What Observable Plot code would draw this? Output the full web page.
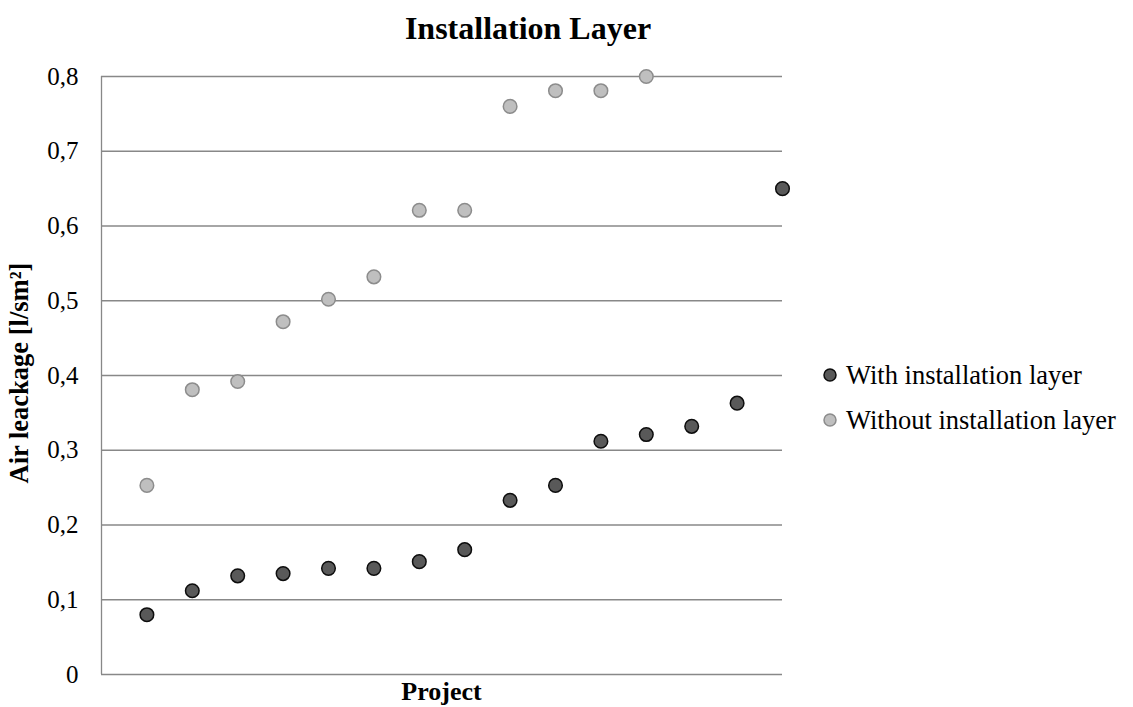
<!DOCTYPE html>
<html>
<head>
<meta charset="utf-8">
<script src="https://cdn.jsdelivr.net/npm/d3@7"></script>
<script src="https://cdn.jsdelivr.net/npm/@observablehq/plot@0.6"></script>
<style>
  html, body { margin: 0; padding: 0; background: #ffffff; }
  #wrap { position: relative; width: 1133px; height: 707px; font-family: "Liberation Serif", "Times New Roman", serif; color: #000; overflow: hidden; }
  #chart { position: absolute; left: 0; top: 0; }
  #title { position: absolute; left: 0; width: 1056px; top: 10px; text-align: center; font-weight: bold; font-size: 32px; line-height: 36px; }
  #xlabel { position: absolute; left: 101px; width: 681px; top: 676px; text-align: center; font-weight: bold; font-size: 26px; line-height: 32px; }
  #ylabel { position: absolute; left: 19px; top: 373px; transform: translate(-50%, -50%) rotate(-90deg); white-space: nowrap; font-weight: bold; font-size: 26.5px; line-height: 32px; }
  #legend { position: absolute; left: 822px; top: 359px; font-size: 26.5px; }
  .item { display: flex; align-items: center; height: 32px; margin-bottom: 13px; white-space: nowrap; }
  .item svg { margin-right: 8px; }
</style>
</head>
<body>
<div id="wrap">
  <div id="chart"></div>
  <div id="title"></div>
  <div id="ylabel"></div>
  <div id="xlabel"></div>
  <div id="legend"></div>
</div>
<script>
// ---- data ----
const chartTitle = "Installation Layer";
const xTitle = "Project";
const yTitle = "Air leackage [l/sm²]";
const seriesNames = ["With installation layer", "Without installation layer"];
const projects = [1, 2, 3, 4, 5, 6, 7, 8, 9, 10, 11, 12, 13, 14, 15];
const withLayer = [0.080, 0.112, 0.132, 0.135, 0.142, 0.142, 0.151, 0.167, 0.233, 0.253, 0.312, 0.321, 0.332, 0.363, 0.650];
const withoutLayer = [0.253, 0.381, 0.392, 0.472, 0.502, 0.532, 0.621, 0.621, 0.760, 0.781, 0.781, 0.800];
const yTicks = [0, 0.1, 0.2, 0.3, 0.4, 0.5, 0.6, 0.7, 0.8];
const seriesFill = ["#595959", "#bfbfbf"];
const seriesStroke = ["#0d0d0d", "#8c8c8c"];

// ---- table ----
const rows = [];
withLayer.forEach((v, i) => rows.push({project: projects[i], value: v, series: seriesNames[0]}));
withoutLayer.forEach((v, i) => rows.push({project: projects[i], value: v, series: seriesNames[1]}));

const fmt = v => v === 0 ? "0" : d3.format(".1f")(v).replace(".", ",");
const gridColor = "#888888";

const plot = Plot.plot({
  width: 1133,
  height: 707,
  marginLeft: 101,
  marginRight: 351,
  marginTop: 76,
  marginBottom: 33,
  style: {fontFamily: "'Liberation Serif', 'Times New Roman', serif", fontSize: "25px", color: "#000", background: "#fff"},
  x: {domain: [0, projects.length], axis: null},
  y: {domain: [0, 0.8], ticks: yTicks, tickFormat: fmt, label: null, tickSize: 0, tickPadding: 22},
  marks: [
    Plot.ruleY(yTicks.filter(t => t > 0), {stroke: gridColor, strokeWidth: 1.3}),
    Plot.ruleY([0], {stroke: gridColor, strokeWidth: 1.3}),
    Plot.ruleX([0], {y1: 0, y2: 0.8, stroke: gridColor, strokeWidth: 1.3}),
    Plot.axisY({ticks: yTicks, tickFormat: fmt, tickSize: 0, tickPadding: 23, label: null, fontSize: 25}),
    Plot.dot(rows, {
      x: "project", y: "value", r: 6.8,
      fill: d => seriesFill[seriesNames.indexOf(d.series)],
      stroke: d => seriesStroke[seriesNames.indexOf(d.series)],
      strokeWidth: 1.5
    })
  ]
});
document.getElementById("chart").appendChild(plot);

document.getElementById("title").textContent = chartTitle;
document.getElementById("xlabel").textContent = xTitle;
document.getElementById("ylabel").textContent = yTitle;

const legend = document.getElementById("legend");
seriesNames.forEach((name, i) => {
  const item = document.createElement("div");
  item.className = "item";
  item.innerHTML = `<svg width="16" height="16"><circle cx="8" cy="8" r="6" fill="${seriesFill[i]}" stroke="${seriesStroke[i]}" stroke-width="1.5"/></svg><span></span>`;
  item.querySelector("span").textContent = name;
  legend.appendChild(item);
});
</script>
</body>
</html>
